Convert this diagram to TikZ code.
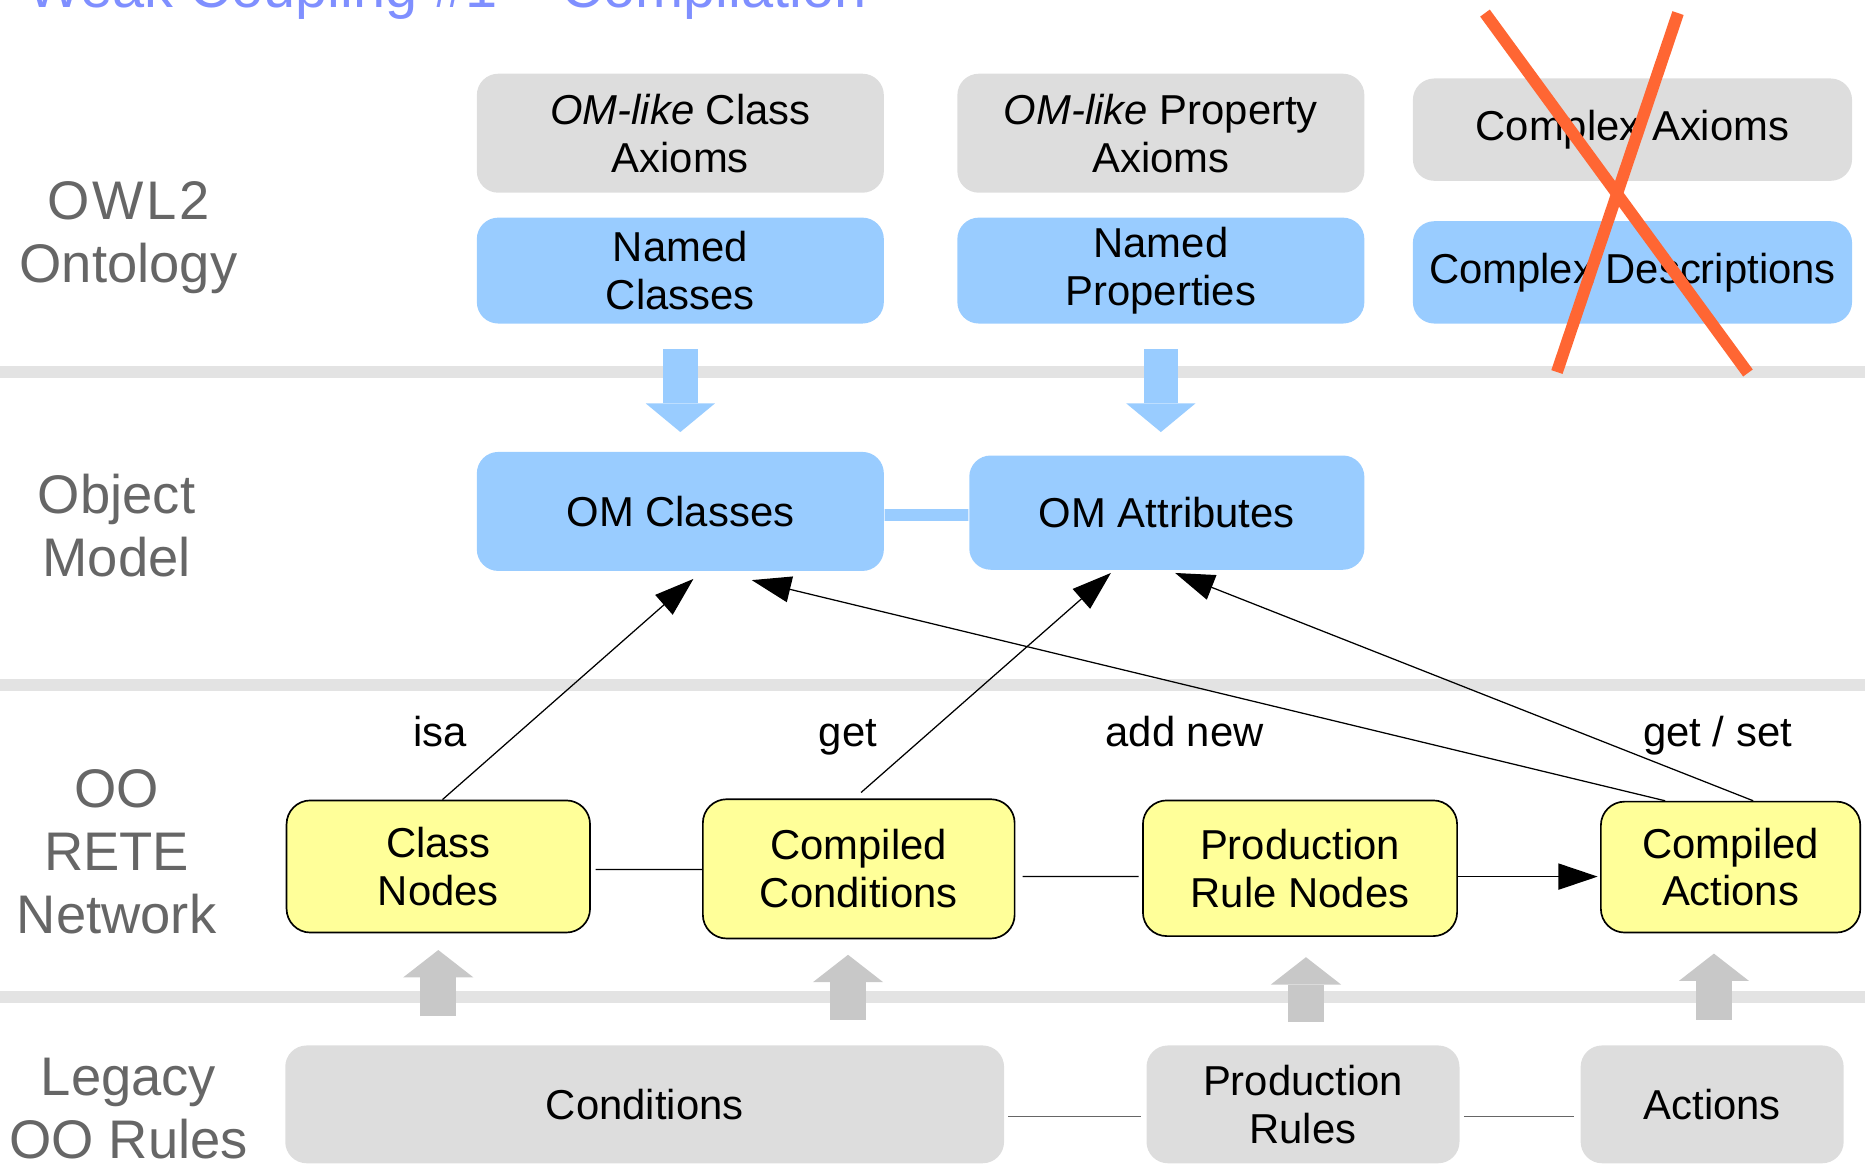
\documentclass[tikz,border=0pt]{standalone}
\usepackage{fontspec}
\setmainfont{Liberation Sans}
\usepackage[usenames]{xcolor}
\usepackage{tikz}
\usetikzlibrary{arrows.meta}

\definecolor{boxgray}{HTML}{DDDDDD}
\definecolor{boxblue}{HTML}{99CCFF}
\definecolor{boxyellow}{HTML}{FFFF99}
\definecolor{bandgray}{HTML}{E3E3E3}
\definecolor{liftgray}{HTML}{C8C8C8}
\definecolor{labelgray}{HTML}{666666}
\definecolor{crossred}{HTML}{FF6633}
\definecolor{titleblue}{HTML}{7F8FFF}

\begin{document}
\begin{tikzpicture}[x=0.01cm, y=-0.01cm, >={Triangle[length=0.33cm,width=0.22cm]}]
	\tikzstyle{every node}=[align=center, inner sep=0pt]
	\tikzstyle{box}=[rectangle, rounded corners=0.18cm, font=\fontsize{10}{11.4}\selectfont]
	\tikzstyle{axiom}=[box, fill=boxgray, minimum width=3.42cm, minimum height=1cm]
	\tikzstyle{owl}=[box, fill=boxblue, minimum width=3.42cm, minimum height=0.89cm]
	\tikzstyle{om}=[box, fill=boxblue, minimum height=1cm]
	\tikzstyle{rete}=[box, fill=boxyellow, draw=black, line width=0.4pt, rounded corners=0.2cm]
	\tikzstyle{legacy}=[box, fill=boxgray, minimum height=0.99cm]
	\tikzstyle{layername}=[text=labelgray, font=\fontsize{13}{15}\selectfont]
	\tikzstyle{verb}=[anchor=base, font=\fontsize{10}{12}\selectfont]
	\tikzstyle{band}=[fill=bandgray]
	\tikzstyle{blockarrow}=[draw=boxblue, line width=0.29cm, -{Triangle[length=0.24cm,width=0.58cm,line width=0pt]}]
	\tikzstyle{liftarrow}=[draw=liftgray, line width=0.30cm, -{Triangle[length=0.23cm,width=0.59cm,line width=0pt]}]
	\tikzstyle{link}=[draw=black, line width=0.3pt]
	\tikzstyle{strike}=[draw=crossred, line width=0.1cm]

	\useasboundingbox (0,0) rectangle (1568,982);

	% title, cut off by the page
	\node[anchor=base west, text=titleblue, font=\fontsize{13.8}{16}\selectfont] (title) at (22,6) {Weak Coupling \#1 – Compilation};

	% layer bands
	\fill[band] (0,308) rectangle (1568,318);
	\fill[band] (0,571) rectangle (1568,581);
	\fill[band] (0,833) rectangle (1568,843);

	% layer names
	\node[layername] (owl2) at (108,200) {{\addfontfeature{LetterSpace=5}OWL2}\\Ontology};
	\node[layername] (objmodel) at (98,442) {Object\\Model};
	\node[layername] (retenet) at (98,716) {OO\\RETE\\Network};
	\node[layername] (legacyrules) at (108,932) {Legacy\\OO Rules};

	% ontology
	\node[axiom] (clsax) at (572,112) {\textit{OM-like} Class\\Axioms};
	\node[axiom] (propax) at (976,112) {\textit{OM-like} Property\\Axioms};
	\node[axiom, minimum width=3.69cm, minimum height=0.86cm] (cplxax) at (1372.5,109) {Complex Axioms};
	\node[owl] (namedcls) at (572,227.5) {Named\\Classes};
	\node[owl] (namedprop) at (976,227.5) {Named\\Properties};
	\node[owl, minimum width=3.69cm, minimum height=0.86cm] (cplxdesc) at (1372.5,229) {Complex Descriptions};

	% object model
	\node[om, minimum width=3.42cm] (omcls) at (572,430) {OM Classes};
	\node[om, minimum width=3.32cm, minimum height=0.96cm] (omattr) at (981,431) {OM Attributes};

	% rete network
	\node[rete, minimum width=2.55cm, minimum height=1.11cm] (clsnodes) at (368.5,728.5) {Class\\Nodes};
	\node[rete, minimum width=2.62cm, minimum height=1.17cm] (compcond) at (722,730.5) {Compiled\\Conditions};
	\node[rete, minimum width=2.64cm, minimum height=1.14cm] (prodnodes) at (1093,730) {Production\\Rule Nodes};
	\node[rete, minimum width=2.18cm, minimum height=1.10cm] (compact) at (1455,729) {Compiled\\Actions};

	% legacy rules
	\node[legacy, minimum width=6.04cm] (cond) at (542,928.5) {Conditions};
	\node[legacy, minimum width=2.63cm] (prodrules) at (1095.5,928.5) {Production\\Rules};
	\node[legacy, minimum width=2.21cm] (actions) at (1439.5,928.5) {Actions};

	% mapping arrows
	\draw[blockarrow] ([yshift=-0.21cm]namedcls.south) -- ([yshift=0.16cm]namedcls.south |- omcls.north);
	\draw[blockarrow] ([yshift=-0.21cm]namedprop.south) -- ([yshift=0.19cm]namedprop.south |- omattr.north);
	\draw[boxblue, line width=0.1cm] ([yshift=-0.03cm]omcls.east) -- ([yshift=-0.02cm]omattr.west);

	\draw[liftarrow] ([yshift=0.24cm]clsnodes.south |- cond.north) -- ([yshift=-0.14cm]clsnodes.south);
	\draw[liftarrow] ([xshift=-0.09cm,yshift=0.21cm]compcond.south |- cond.north) -- ([xshift=-0.09cm,yshift=-0.13cm]compcond.south);
	\draw[liftarrow] ([xshift=0.05cm,yshift=0.19cm]prodnodes.south |- prodrules.north) -- ([xshift=0.05cm,yshift=-0.17cm]prodnodes.south);
	\draw[liftarrow] ([xshift=-0.14cm,yshift=0.21cm]compact.south |- actions.north) -- ([xshift=-0.14cm,yshift=-0.17cm]compact.south);

	% rete links
	\draw[link] ([xshift=0.04cm,yshift=-0.025cm]clsnodes.east) -- ([yshift=-0.005cm]compcond.west);
	\draw[link] ([xshift=0.06cm,yshift=-0.065cm]compcond.east) -- ([xshift=-0.03cm,yshift=-0.07cm]prodnodes.west);
	\draw[link, ->] ([yshift=-0.07cm]prodnodes.east) -- ([xshift=-0.02cm,yshift=-0.08cm]compact.west);
	\draw[link, draw=labelgray] ([xshift=0.03cm,yshift=-0.105cm]cond.east) -- ([xshift=-0.04cm,yshift=-0.105cm]prodrules.west);
	\draw[link, draw=labelgray] ([xshift=0.03cm,yshift=-0.105cm]prodrules.east) -- ([xshift=-0.05cm,yshift=-0.105cm]actions.west);

	% uses of the object model
	\draw[link, ->] ([xshift=0.035cm]clsnodes.north) -- ([xshift=0.11cm,yshift=-0.06cm]omcls.south);
	\draw[link, ->] ([xshift=0.02cm,yshift=0.05cm]compcond.north) -- ([xshift=-0.47cm,yshift=-0.02cm]omattr.south);
	\draw[link, ->] ([xshift=-0.55cm]compact.north) -- ([xshift=0.6cm,yshift=-0.07cm]omcls.south);
	\draw[link, ->] ([xshift=0.19cm]compact.north) -- ([xshift=0.07cm,yshift=-0.02cm]omattr.south);

	\node[verb] (isa) at (370,628) {isa};
	\node[verb] (get) at (713,628) {get};
	\node[verb] (addnew) at (996,628) {add new};
	\node[verb] (getset) at (1444,628) {get / set};

	% complex part is left out
	\draw[strike] (1248.5,11) -- (1469.6,313.6);
	\draw[strike] (1410.8,11) -- (1309,312.8);
\end{tikzpicture}
\end{document}
